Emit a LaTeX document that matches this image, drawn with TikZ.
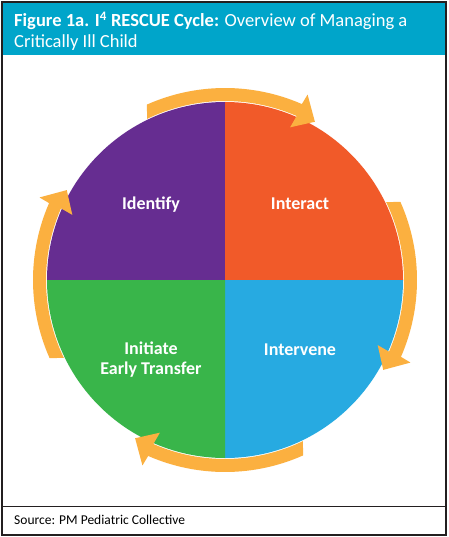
\documentclass[tikz,border=0pt]{standalone}
\usepackage{fontspec}
\setmainfont{Carlito}
\definecolor{qpurple}{RGB}{102,45,145}
\definecolor{qorange}{RGB}{241,90,41}
\definecolor{qblue}{RGB}{39,170,225}
\definecolor{qgreen}{RGB}{57,181,74}
\definecolor{qarrow}{RGB}{251,176,64}
\definecolor{qteal}{RGB}{0,165,202}
\definecolor{qframe}{RGB}{35,31,32}
\tikzset{
  lbl/.style={text=white,font=\fontsize{18}{20}\selectfont\bfseries,inner sep=0pt,align=center},
  cyclearrow/.style={fill=qarrow},
}
\newcommand{\cyclearc}[1]{%
  \begin{scope}[shift={(225,-280)},rotate=#1]
    \fill[cyclearrow] (24:192) arc[start angle=24,end angle=-23.6,radius=192]
      -- (-24:203) -- (-29.6:182) -- (-23.1:166) -- (-23.6:179)
      arc[start angle=-23.6,end angle=25.8,radius=179] -- cycle;
  \end{scope}}
\begin{document}
\begin{tikzpicture}[x=1pt,y=1pt]
\useasboundingbox (0,0) rectangle (448,-537);
\fill[white] (0,0) rectangle (448,-537);
% header
\fill[qteal] (2,-2) rectangle (446,-55);
\node[anchor=base west,inner sep=0pt,text=white,align=left,font=\fontsize{18.5}{21}\selectfont] (title) at (14,-48)
  {\textbf{Figure 1a. I\textsuperscript{4} RESCUE Cycle:} Overview of Managing a\\Critically Ill Child};
% circle quadrants
\coordinate (c) at (225,-280);
\fill[qpurple] (c) -- ++(180:178) arc[start angle=180,end angle=90,radius=178] -- cycle;
\fill[qorange] (c) -- ++(90:178) arc[start angle=90,end angle=0,radius=178] -- cycle;
\fill[qblue] (c) -- ++(0:178) arc[start angle=0,end angle=-90,radius=178] -- cycle;
\fill[qgreen] (c) -- ++(-90:178) arc[start angle=-90,end angle=-180,radius=178] -- cycle;
% arrows
\cyclearc{90}
\cyclearc{0}
\cyclearc{-90}
\cyclearc{180}
% labels
\node[lbl,anchor=base] (identify) at (151,-209) {Identify};
\node[lbl,anchor=base] (interact) at (300,-209) {Interact};
\node[lbl,anchor=base] (intervene) at (300,-355) {Intervene};
\node[lbl,anchor=base] (initiate) at (151,-374) {Initiate\\Early Transfer};
% frame and footer
\draw[qframe,line width=1pt] (2,-506) -- (446,-506);
\node[anchor=base west,inner sep=0pt,font=\fontsize{13.5}{14}\selectfont,text=black] (source) at (14,-524) {Source: PM Pediatric Collective};
\draw[qframe,line width=1.6pt] (2,-2) rectangle (446,-535);
\end{tikzpicture}
\end{document}
